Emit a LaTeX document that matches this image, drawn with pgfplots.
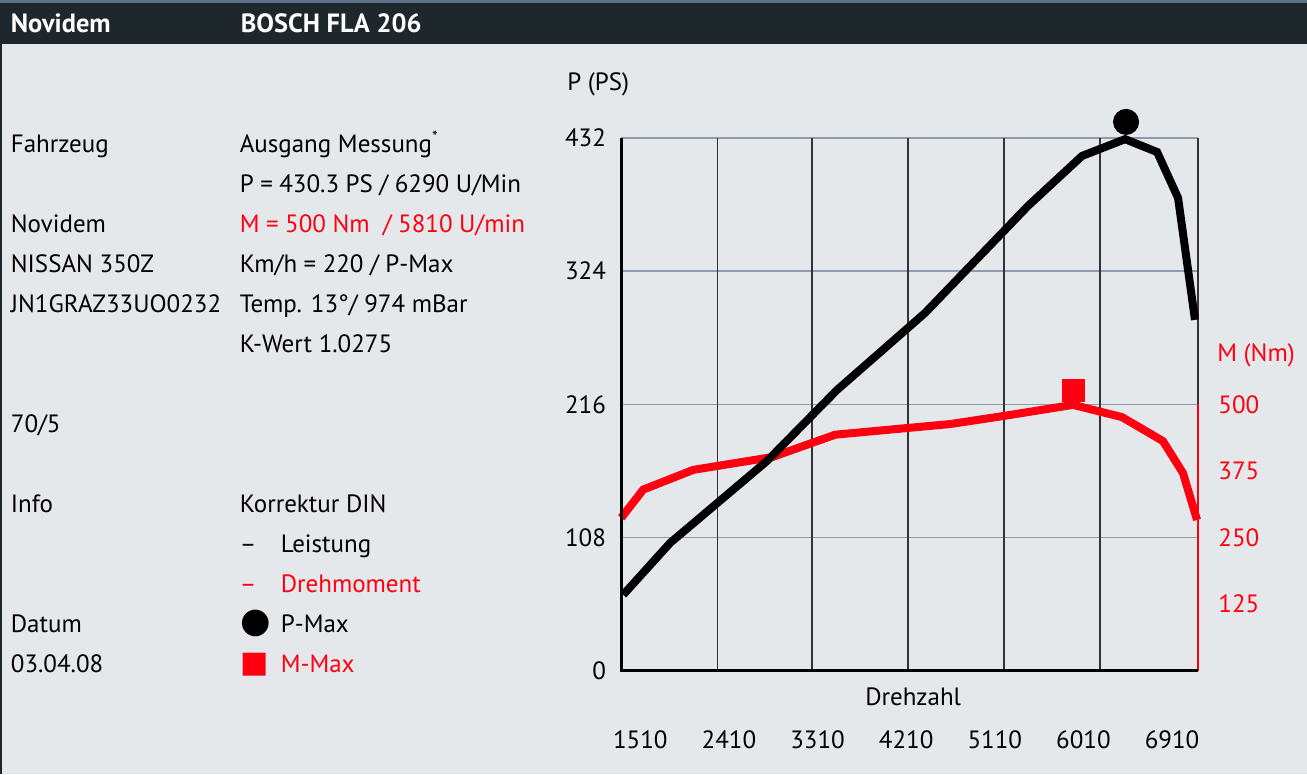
\documentclass[border=0pt]{standalone}
\usepackage{pgfplots}
\pgfplotsset{compat=1.18}
\usepackage{fontspec}
\setmainfont{PT Sans}
\newfontfamily\symfont{DejaVu Sans}
\definecolor{bg}{HTML}{E4E8EB}
\definecolor{hdr}{HTML}{1E282C}
\definecolor{topc}{HTML}{5A7388}
\definecolor{myred}{HTML}{FF0010}
\definecolor{hgrid}{HTML}{8C9BAE}
\definecolor{vgrid}{HTML}{333333}
\newcommand{\txt}{\fontsize{12.5}{15}\selectfont}
\newcommand{\gp}{\hspace{0.26em}}
\pgfplotstableread{
rpm PS
1337 61.6
1814 103.7
2799 170.2
3510 227.8
4403 290.2
5448 376.9
5996 417.4
6433 431.0
6758 420.6
6971 383.4
7143 284.5
}\power
\pgfplotstableread{
rpm Nm
1317 287
1540 340
2048 377
2850 401
3489 443
4657 463
5194 478
5905 499
6402 476
6818 431
7021 371
7164 283
}\torque
\pgfplotsset{
  myax/.style={
    at={(310.5pt,51.5pt)}, anchor=south west,
    scale only axis, width=288.5pt, height=266.5pt,
    xmin=1317, xmax=7174,
    major tick length=0pt, minor tick length=0pt,
    tick label style={font=\txt},
    /pgf/number format/assume math mode=true,
    clip=false,
  }
}
\begin{document}
\begin{tikzpicture}[x=0.5pt,y=0.5pt,every node/.style={font=\txt}]
\fill[bg] (0,0) rectangle (1307,774);
\fill[topc] (0,771) rectangle (1307,774);
\fill[hdr] (0,730) rectangle (1307,771);
\draw[hdr, line width=1pt] (0.5,0)--(0.5,730);
% header
\node[anchor=base west, text=white, inner sep=0pt, font=\fontsize{13.2}{15}\selectfont\bfseries] at (10,741) {Novidem};
\node[anchor=base west, text=white, inner sep=0pt, font=\fontsize{13.2}{15}\selectfont\bfseries] at (240,741) {BOSCH FLA 206};
% left column
\begin{scope}[every node/.append style={anchor=base west, inner sep=0pt}]
\node at (10,774-153) {Fahrzeug};
\node at (10,774-233) {Novidem};
\node at (10,774-273) {NISSAN 350Z};
\node at (10,774-313) {JN1GRAZ33UO0232};
\node at (10,774-433) {70/5};
\node at (10,774-513) {Info};
\node at (10,774-633) {Datum};
\node at (10,774-673) {03.04.08};
\node at (239,774-153) {Ausgang Messung\raisebox{5pt}{\fontsize{8}{8}\selectfont *}};
\node at (239,774-193) {P\gp=\gp430.3\gp PS\gp/\gp6290\gp U/Min};
\node[text=myred] at (239,774-233) {M\gp=\gp500\gp Nm\gp\ /\gp5810\gp U/min};
\node at (239,774-273) {Km/h\gp=\gp220\gp/\gp P-Max};
\node at (239,774-313) {Temp. 13°/ 974 mBar};
\node at (239,774-353) {K-Wert 1.0275};
\node at (239,774-513) {Korrektur DIN};
\node at (239,774-553) {–};
\node at (280,774-553) {Leistung};
\node[text=myred] at (239,774-593) {–};
\node[text=myred] at (280,774-593) {Drehmoment};
\node at (240,774-633) {\symfont\fontsize{17.5}{18}\selectfont ●};
\node at (280,774-633) {P-Max};
\node[text=myred] at (240,774-673) {\symfont\fontsize{15}{15}\selectfont ■};
\node[text=myred] at (280,774-673) {M-Max};
\end{scope}
% axis labels
\node at (598,774-84) {P (PS)};
\node[text=myred] at (1256,774-355) {M (Nm)};
\node at (913,774-697) {Drehzahl};
% axis A: grid and ticks (power scale)
\begin{axis}[myax,
  ymin=0, ymax=432,
  ytick={0,108,216,324,432},
  yticklabel style={anchor=east, inner sep=0pt, xshift=-7.5pt},
  ymajorgrids=true,
  major grid style={draw=hgrid, line width=0.75pt},
  xtick={1510,2410,3310,4210,5110,6010,6910},
  xticklabels={1510,2410,3310,4210,5110,6010,6910},
  xticklabel style={anchor=center, inner sep=0pt, yshift=-34.5pt},
  extra x ticks={2292,3256,4230,5205,6179},
  extra x tick labels={},
  extra x tick style={xmajorgrids=true, ymajorgrids=false, major grid style={draw=vgrid, line width=0.75pt}},
  axis line style={draw=none},
]
\draw[vgrid, line width=0.75pt] (rel axis cs:1,0)--(rel axis cs:1,1);
\end{axis}
% axis B: torque
\begin{axis}[myax,
  ymin=0, ymax=1000,
  hide x axis,
  axis y line*=right,
  axis line style={draw=none},
  ytick={125,250,375,500},
  yticklabel style={anchor=west, inner sep=0pt, xshift=10pt, text=myred},
]
\addplot[myred, line width=4pt] table[x=rpm, y=Nm] {\torque};
\addplot[only marks, mark=square*, mark size=5.5pt, myred, mark options={draw=myred, fill=myred}] coordinates {(5905,527)};
\draw[myred, line width=1.1pt] (axis cs:7174,0)--(axis cs:7174,500);
\end{axis}
% axis C: power curve
\begin{axis}[myax,
  ymin=0, ymax=432,
  hide axis,
]
\addplot[black, line width=4pt] table[x=rpm, y=PS] {\power};
\addplot[only marks, mark=*, mark size=6.3pt, black] coordinates {(6443,445)};
\draw[black, line width=1.5pt] (rel axis cs:0,1)--(rel axis cs:0,0)--(rel axis cs:1,0);
\end{axis}
\end{tikzpicture}
\end{document}
